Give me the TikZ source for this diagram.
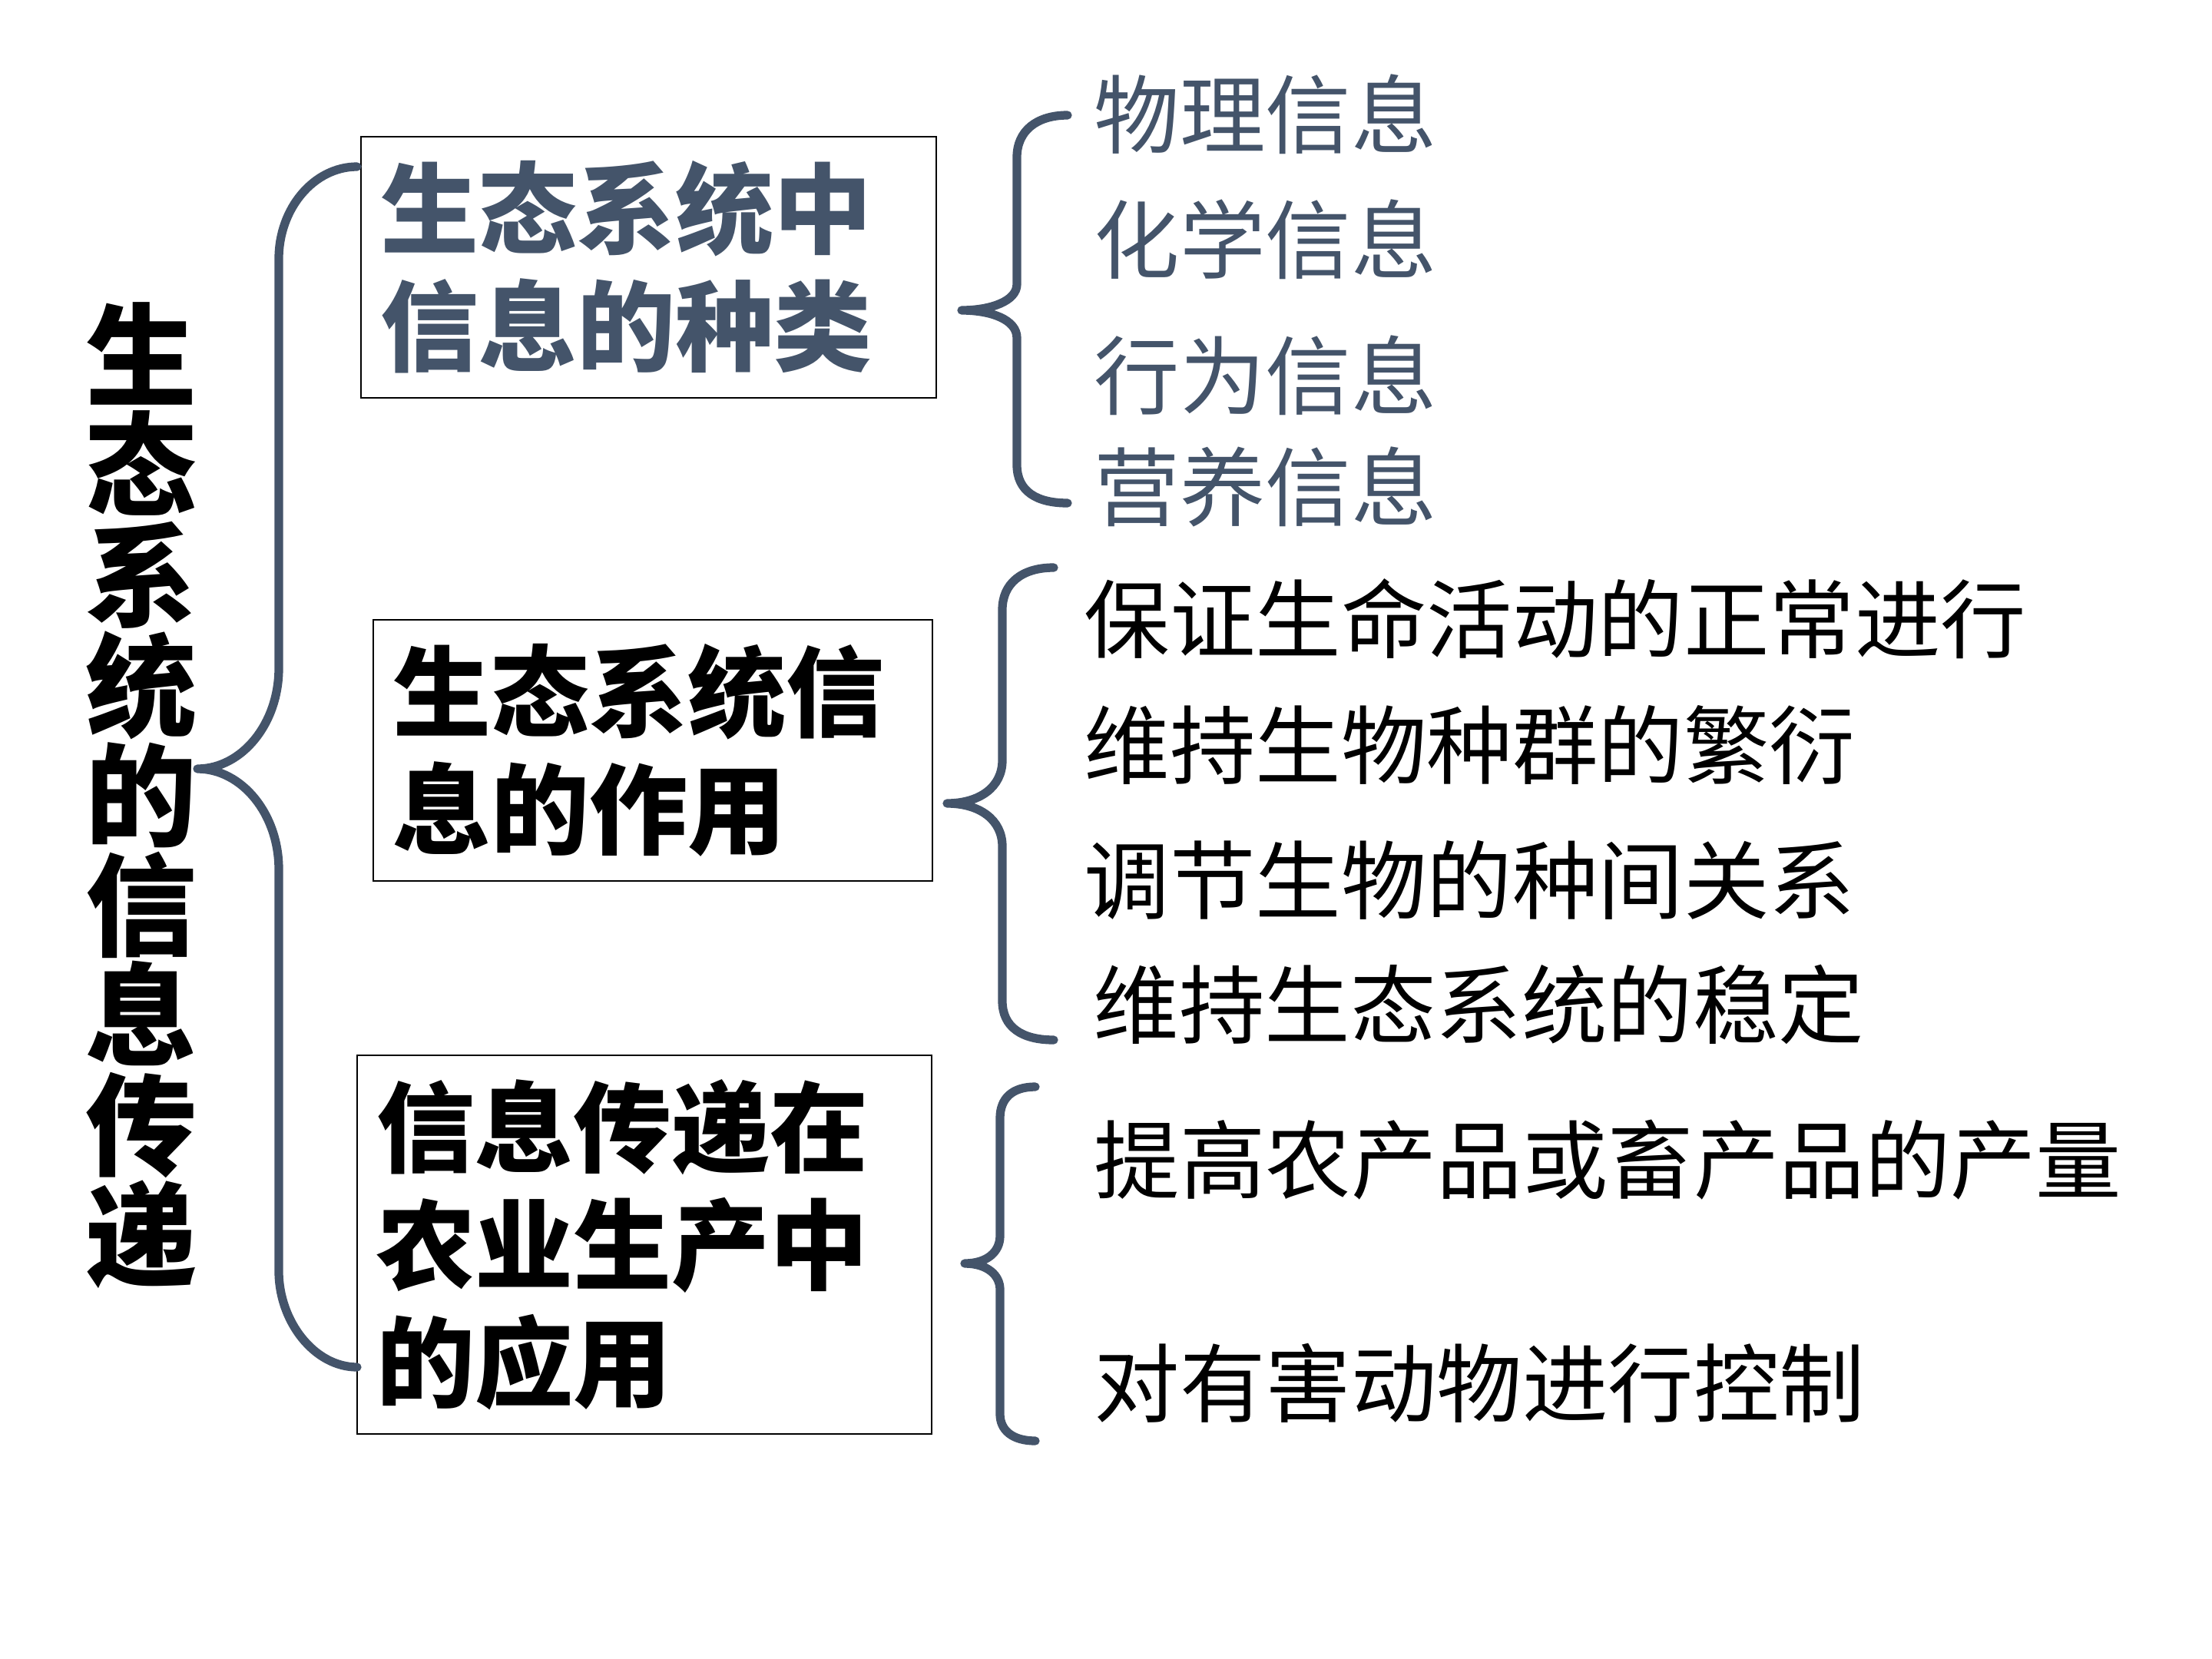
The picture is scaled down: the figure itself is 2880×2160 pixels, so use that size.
\documentclass[tikz,border=0pt]{standalone}
\usepackage{fontspec}
\usepackage{xcolor}
\usetikzlibrary{positioning}
\newfontfamily\cjk{Noto Sans CJK SC}
\definecolor{slate}{HTML}{44546A}
\tikzset{
  box/.style={rectangle, draw=black, line width=0.6pt, fill=white, align=left,
              inner xsep=0.26cm, inner ysep=0pt, font=\cjk\bfseries\fontsize{36.4}{43.5}\selectfont},
  head/.style={align=center, inner sep=0pt, font=\cjk\bfseries\fontsize{41.2}{40.7}\selectfont},
  item/.style={anchor=west, inner sep=0pt, font=\cjk\fontsize{31.7}{38}\selectfont},
  brace/.style={draw=slate, line width=3.2pt, line cap=round, line join=round},
}
\begin{document}
\begin{tikzpicture}[x=0.01cm, y=-0.01cm]
  \fill[white] (0,0) rectangle (2880,2160);
  \useasboundingbox (0,0) rectangle (2880,2160);
  % title
  \node[head] (title) at (184,1036) {生\\态\\系\\统\\的\\信\\息\\传\\递};
  % the three boxes
  \node[box, text=slate, text width=6.97cm, minimum height=3.4cm] (kind) at (844.5,348) {生态系统中\\信息的种类};
  \node[box, text width=6.76cm, minimum height=3.4cm] (role) at (850,977) {生态系统信\\息的作用};
  \node[box, text width=6.96cm, minimum height=4.93cm] (use) at (839,1620.5) {信息传递在\\农业生产中\\的应用};
  % kinds
  \node[item, text=slate] (k1) at (1424,149) {物理信息};
  \node[item, text=slate] (k2) at (1424,312) {化学信息};
  \node[item, text=slate] (k3) at (1424,489) {行为信息};
  \node[item, text=slate] (k4) at (1424,634) {营养信息};
  % roles
  \node[item] (r1) at (1411,806) {保证生命活动的正常进行};
  \node[item] (r2) at (1411,970) {维持生物种群的繁衍};
  \node[item] (r3) at (1411,1146) {调节生物的种间关系};
  \node[item] (r4) at (1423,1308) {维持生态系统的稳定};
  % uses
  \node[item] (u1) at (1424,1510) {提高农产品或畜产品的产量};
  \node[item] (u2) at (1424,1801) {对有害动物进行控制};
  % braces
  \draw[brace] (465,217) .. controls (409,217) and (363,271) .. (363,337) -- (363,870)
    .. controls (363,942) and (315,1001) .. (257,1001)
    .. controls (315,1001) and (363,1060) .. (363,1132) -- (363,1655)
    .. controls (363,1720) and (409,1780) .. (465,1780);
  \draw[brace] (1390,150) .. controls (1350,150) and (1324,170) .. (1324,205) -- (1324,370)
    .. controls (1324,392) and (1290,404) .. (1252,404)
    .. controls (1290,404) and (1324,416) .. (1324,440) -- (1324,605)
    .. controls (1324,640) and (1350,655) .. (1390,655);
  \draw[brace] (1372,739) .. controls (1330,739) and (1305,760) .. (1305,794) -- (1305,990)
    .. controls (1305,1025) and (1275,1046) .. (1233,1046)
    .. controls (1275,1046) and (1305,1067) .. (1305,1102) -- (1305,1303)
    .. controls (1305,1337) and (1330,1354) .. (1372,1354);
  \draw[brace] (1348,1415) .. controls (1318,1415) and (1302,1430) .. (1302,1456) -- (1302,1609)
    .. controls (1302,1630) and (1285,1645) .. (1256,1645)
    .. controls (1285,1645) and (1302,1660) .. (1302,1679) -- (1302,1841)
    .. controls (1302,1862) and (1318,1876) .. (1348,1876);
\end{tikzpicture}
\end{document}
